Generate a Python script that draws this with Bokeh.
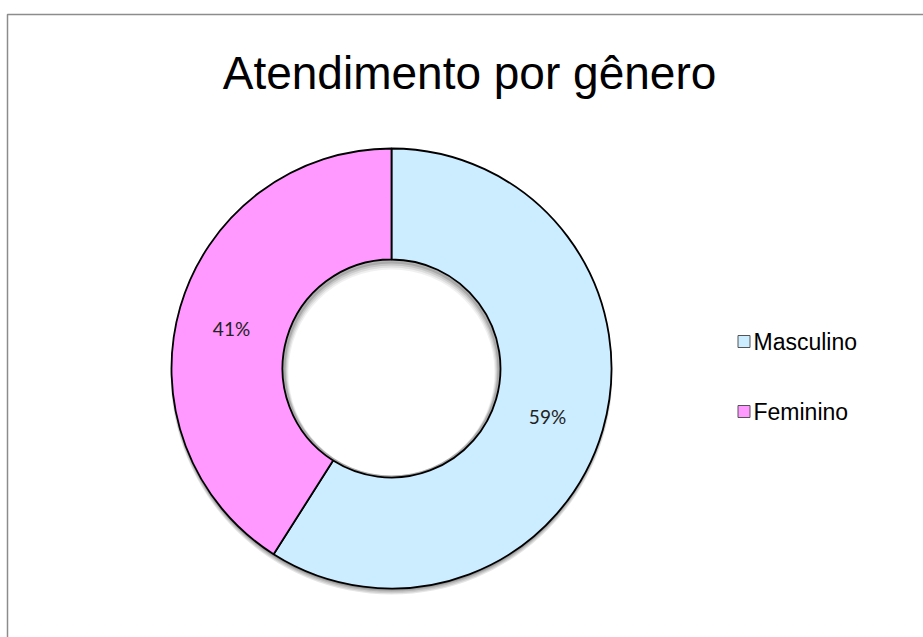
import math
from bokeh.plotting import figure
from bokeh.models import Range1d
from bokeh.core.properties import value
from bokeh.embed import file_html
from bokeh.resources import INLINE

# Data
title_text = "Atendimento por gênero"
categories = ["Masculino", "Feminino"]
shares = [59, 41]
label_texts = ["59%", "41%"]
colors = ["#CCECFF", "#FF99FF"]

W, H = 923, 637
p = figure(width=W, height=H, output_backend="svg", toolbar_location=None,
           x_range=Range1d(0, W), y_range=Range1d(H, 0),
           min_border=0, outline_line_color=None, background_fill_color="white")
p.axis.visible = False
p.grid.visible = False

# chart frame
p.line(x=[7, 7, W + 5], y=[H + 5, 14, 14], line_color="#8c8c8c", line_width=1.5)

cx, cy = 391, 368
r_out, r_in = 220, 109

# soft outer shadow
for i, a in enumerate([0.10, 0.10, 0.12, 0.14]):
    p.circle(x=cx, y=cy + 5 - i, radius=r_out + 1 - i * 0.3, radius_units="screen",
             fill_color="black", fill_alpha=a, line_color=None)
p.circle(x=cx, y=cy, radius=r_out, radius_units="screen", fill_color="white", line_color=None)

# inner hole shadow (shows at top inside of hole)
for i, a in enumerate([0.06, 0.08, 0.10, 0.14]):
    p.annulus(x=cx, y=cy + 4 - i, inner_radius=r_in - 6 + i, outer_radius=r_in + 2,
              inner_radius_units="screen", outer_radius_units="screen",
              fill_color="black", fill_alpha=a, line_color=None)

# wedges: first series starts at 12 o'clock and runs clockwise
total = float(sum(shares))
acc = 0.0
for cat, v, col in zip(categories, shares, colors):
    a0 = acc / total * 2 * math.pi
    a1 = (acc + v) / total * 2 * math.pi
    acc += v
    p.annular_wedge(x=cx, y=cy, inner_radius=r_in, outer_radius=r_out,
                    inner_radius_units="screen", outer_radius_units="screen",
                    start_angle=math.pi / 2 - a1, end_angle=math.pi / 2 - a0,
                    direction="anticlock",
                    fill_color=col, line_color="black", line_width=1.8)

# percentage labels
label_pos = {"59%": (547, 416), "41%": (231, 328)}
for lab in label_texts:
    lx, ly = label_pos[lab]
    p.text(x=[lx], y=[ly], text=[lab], text_font=value("Lato"), text_font_size="19px",
           text_color="#222222", text_align="center", text_baseline="middle")

# title
p.text(x=[469], y=[72], text=[title_text], text_font=value("Liberation Sans"),
       text_font_size="46px", text_color="black", text_align="center", text_baseline="middle")

# legend
for i, (cat, col) in enumerate(zip(categories, colors)):
    ly = 341 + i * 70
    p.rect(x=[743.5], y=[ly], width=12, height=12, width_units="screen", height_units="screen",
           fill_color=col, line_color="#555555", line_width=1)
    p.text(x=[753], y=[ly], text=[cat], text_font=value("Liberation Sans"), text_font_size="23px",
           text_color="black", text_align="left", text_baseline="middle")

open("out.html", "w").write(file_html(p, INLINE))
